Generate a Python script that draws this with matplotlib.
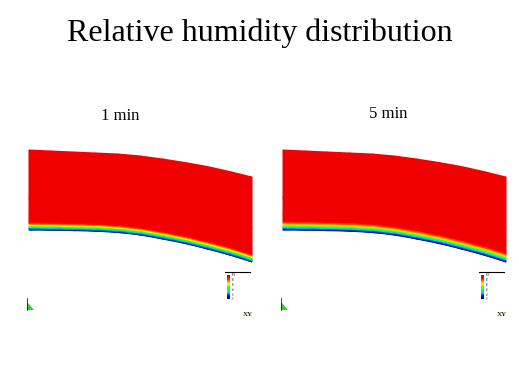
import numpy as np
import matplotlib
matplotlib.use("Agg")
import matplotlib.pyplot as plt
from matplotlib.colors import LinearSegmentedColormap, Normalize

# ---------------- data ----------------
title = "Relative humidity distribution"
panel_labels = ["1 min", "5 min"]

# specimen outline (normalised length u, top / bottom edge in px units of the drawing)
u_pts = [0.0, 0.1, 0.2, 0.3, 0.4, 0.5, 0.6, 0.7, 0.8, 0.9, 1.0]
top_edge = [150.0, 151.0, 152.0, 153.0, 154.0, 156.0, 159.0, 162.5, 166.5, 171.5, 177.0]
bottom_edge = [230.0, 230.2, 230.6, 231.2, 232.5, 235.0, 239.0, 243.5, 249.0, 255.0, 262.0]

# relative humidity through the thickness (s = 0 bottom surface, 1 top surface)
depth_s = [0.0, 0.015, 0.03, 0.045, 0.06, 0.075, 0.09, 0.11, 0.14, 0.2, 0.4, 1.0]
rh_1min = [2.0, 18.0, 33.0, 48.0, 62.0, 75.0, 86.0, 93.0, 97.0, 99.0, 100.0, 100.0]
rh_5min = [2.0, 15.0, 28.0, 42.0, 55.0, 68.0, 79.0, 89.0, 95.0, 98.5, 100.0, 100.0]
rh_profiles = [rh_1min, rh_5min]

cbar_ticks = [0, 20, 40, 60, 80, 100]

# ---------------- style ----------------
plt.rcParams['font.family'] = ['Liberation Serif', 'DejaVu Serif']
cmap = LinearSegmentedColormap.from_list(
    "rh", ["#00008c", "#0000ff", "#00c8ff", "#00ff80", "#40ff00",
           "#ffff00", "#ff8000", "#f40000", "#f00000"])
norm = Normalize(0, 100)

W, H = 519, 389
fig = plt.figure(figsize=(W / 100, H / 100), dpi=100)
ax = fig.add_axes([0, 0, 1, 1])
ax.set_xlim(0, W)
ax.set_ylim(H, 0)
ax.axis("off")

fig.text(0.5, 1 - 33 / H, title, ha="center", va="center", fontsize=23)

panel_x0 = [29, 283]
panel_w = 223
label_pos = [(120, 116), (388, 114)]

u = np.array(u_pts)
top = np.array(top_edge)
bot = np.array(bottom_edge)
s = np.array(depth_s)

for k in range(2):
    X = panel_x0[k] + u[None, :] * panel_w + 0 * s[:, None]
    Y = bot[None, :] + (top - bot)[None, :] * s[:, None]
    C = np.array(rh_profiles[k])[:, None] + 0 * u[None, :]
    ax.pcolormesh(X, Y, C, cmap=cmap, norm=norm, shading="gouraud")

    lx, ly = label_pos[k]
    fig.text(lx / W, 1 - ly / H, panel_labels[k], ha="center", va="center", fontsize=12)

    # colour legend (small)
    cx = panel_x0[k] + 198
    ax.plot([cx - 2, cx + 23], [272, 272], color="black", lw=0.8)
    cax = fig.add_axes([cx / W, 1 - 299 / H, 3 / W, 24 / H])
    cb = fig.colorbar(plt.cm.ScalarMappable(norm=norm, cmap=cmap), cax=cax)
    cb.outline.set_visible(False)
    cb.set_ticks(cbar_ticks)
    cb.ax.tick_params(labelsize=2, length=0, pad=1.5, colors="#333333")
    ax.text(cx + 21, 315, "XY", fontsize=5, ha="center", va="center",
            fontweight="bold", color="#333300")

    # axis triad
    tx = panel_x0[k] - 2
    ax.fill([tx, tx, tx + 7], [302, 310, 310], color="#33cc33", lw=0)
    ax.plot([tx, tx], [298, 310], color="black", lw=0.5)

fig.savefig("out.png", dpi=100)
